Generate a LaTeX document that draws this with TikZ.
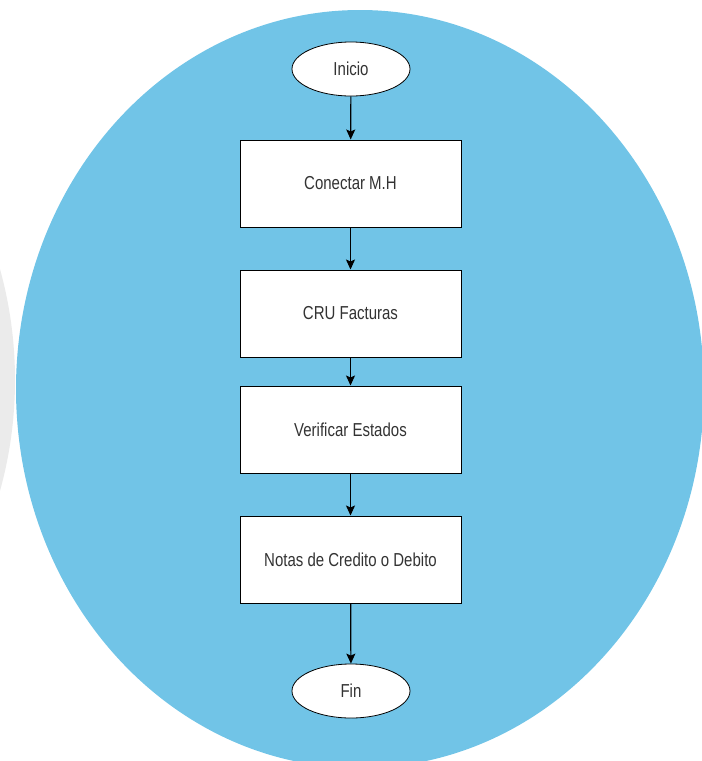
\documentclass[tikz,border=0pt]{standalone}
\usepackage{fontspec}
\setmainfont{Liberation Sans}
\usepackage{tikz}
\usetikzlibrary{arrows.meta, shapes.geometric, positioning}
\definecolor{skyfill}{RGB}{113,196,231}
\definecolor{greyfill}{RGB}{235,235,235}
\definecolor{labeltext}{RGB}{51,51,51}
\newcommand{\tallword}[1]{\scalebox{1}[1.25]{#1}}

\tikzset{
  procbox/.style={draw=black, fill=white, line width=1pt, minimum width=221pt, minimum height=87pt, inner sep=0pt, text=labeltext},
  termnode/.style={ellipse, draw=black, fill=white, line width=0.8pt, minimum width=118pt, minimum height=54pt, inner sep=0pt, text=labeltext},
  flowarrow/.style={line width=1.2pt, -{Stealth[length=10pt, width=9pt, inset=2pt]}}
}

\begin{document}
\begin{tikzpicture}[x=1pt, y=-1pt, font=\fontsize{15pt}{18pt}\selectfont]
      \useasboundingbox (0,0) rectangle (702,761);
      \clip (0,0) rectangle (702,761);

      % Background shapes
      \fill[greyfill] (-330,380) ellipse (345 and 379);
      \fill[skyfill] (360,389) ellipse (344 and 379);

      % Terminals
      \node[termnode] (inicio) at (351,69) {\tallword{Inicio}};
      \node[termnode] (fin) at (351,691) {\tallword{Fin}};

      % Process steps
      \node[procbox] (conectar) at (350.5,183.5) {\tallword{Conectar M.H}};
      \node[procbox] (cru) at (350.5,313.5) {\tallword{CRU Facturas}};
      \node[procbox] (verificar) at (350.5,429.5) {\tallword{Verificar Estados}};
      \node[procbox] (notas) at (350.5,559.5) {\tallword{Notas de Credito o Debito}};

      % Connectors
      \draw[flowarrow] (inicio) -- (conectar);
      \draw[flowarrow] (conectar) -- (cru);
      \draw[flowarrow] (cru) -- (verificar);
      \draw[flowarrow] (verificar) -- (notas);
      \draw[flowarrow] (notas) -- (fin);
    \end{tikzpicture}
\end{document}
